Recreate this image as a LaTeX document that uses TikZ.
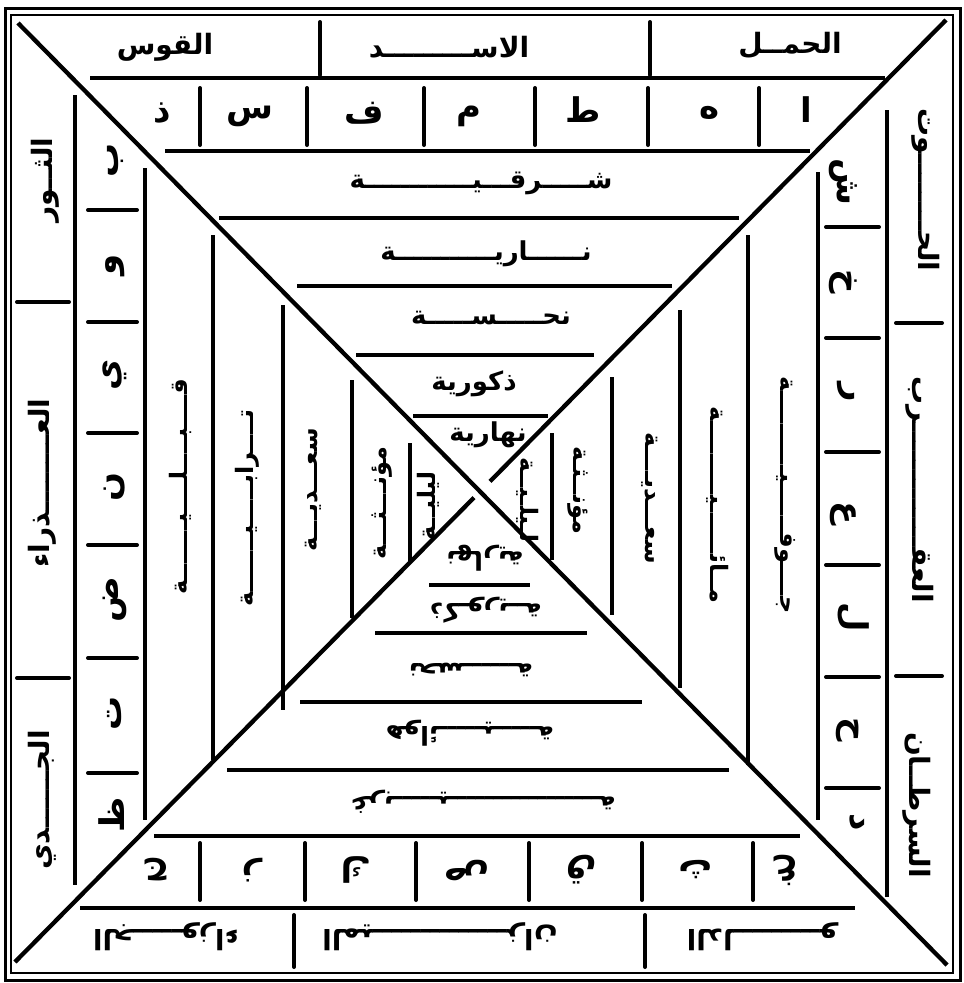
\documentclass[tikz,border=0pt]{standalone}
\usepackage{fontspec}
\newfontfamily\arabicfont[Script=Arabic]{DejaVu Sans}
\TeXXeTstate=1
\newcommand\ar[1]{\beginR#1\endR}
\tikzset{
  frameout/.style={line width=3pt},
  framein/.style={line width=1.6pt},
  diag/.style={line width=4.3pt},
  rul/.style={line width=4.3pt},
  sep/.style={line width=4pt, line cap=round},
  nm/.style={font=\arabicfont\bfseries\fontsize{28}{28}\selectfont, inner sep=0pt},
  lt/.style={font=\arabicfont\bfseries\fontsize{34}{34}\selectfont, inner sep=0pt},
  rw/.style={font=\arabicfont\bfseries\fontsize{26}{26}\selectfont, inner sep=0pt},
  sw/.style={font=\arabicfont\bfseries\fontsize{24}{24}\selectfont, inner sep=0pt},
}
\begin{document}
\begin{tikzpicture}[x=1pt,y=-1pt]
\useasboundingbox (0,0) rectangle (964,983);
% frame
\draw[frameout] (5,8) rectangle (960,980);
\draw[framein] (11,15) rectangle (953,973);
% diagonals
\draw[diag] (18,23) -- (947,965);
\draw[diag] (946,20) -- (490,481.4);
\draw[diag] (474,497.6) -- (15,962);
% top rules
\draw[rul] (90,78) -- (885,78);
\draw[rul] (165,151) -- (810,151);
\draw[rul] (219,218) -- (739,218);
\draw[rul] (297,286) -- (672,286);
\draw[rul] (356,355) -- (594,355);
\draw[rul] (413,416) -- (548,416);
\foreach \x in {320,650} \draw[sep] (\x,22) -- (\x,75);
\foreach \x in {200,307,424,535,648,759} \draw[sep] (\x,88) -- (\x,145);
% bottom rules
\draw[rul] (80,908) -- (855,908);
\draw[rul] (154,836) -- (800,836);
\draw[rul] (227,770) -- (729,770);
\draw[rul] (300,702) -- (642,702);
\draw[rul] (375,633) -- (587,633);
\draw[rul] (429,585) -- (530,585);
\foreach \x in {294,645} \draw[sep] (\x,915) -- (\x,967);
\foreach \x in {200,305,416,529,642,753} \draw[sep] (\x,843) -- (\x,900);
% left verticals
\draw[rul] (75,95) -- (75,885);
\draw[rul] (145,168) -- (145,820);
\draw[rul] (213,235) -- (213,760);
\draw[rul] (283,305) -- (283,710);
\draw[rul] (352,380) -- (352,618);
\draw[rul] (410,443) -- (410,563);
\foreach \y in {302,678} \draw[sep] (17,\y) -- (69,\y);
\foreach \y in {210,322,433,545,658,773} \draw[sep] (88,\y) -- (137,\y);
% right verticals
\draw[rul] (887,110) -- (887,897);
\draw[rul] (818,172) -- (818,820);
\draw[rul] (748,235) -- (748,765);
\draw[rul] (680,310) -- (680,688);
\draw[rul] (612,377) -- (612,615);
\draw[rul] (552,433) -- (552,560);
\foreach \y in {323,676} \draw[sep] (896,\y) -- (942,\y);
\foreach \y in {227,338,452,565,677,788} \draw[sep] (826,\y) -- (879,\y);
% ---------- top texts
\node[nm] (tn1) at (165,47) {\ar{القوس}};
\node[nm] (tn2) at (449,47) {\ar{الاســـــــــد}};
\node[nm] (tn3) at (790,45) {\ar{الحمــل}};
\node[lt] (tl1) at (162,113) {\ar{ذ}};
\node[lt] (tl2) at (250,116) {\ar{س}};
\node[lt] (tl3) at (364,113) {\ar{ف}};
\node[lt] (tl4) at (469,116) {\ar{م}};
\node[lt] (tl5) at (583,110) {\ar{ط}};
\node[lt] (tl6) at (710,113) {\ar{ه}};
\node[lt] (tl7) at (806,110) {\ar{ا}};
\node[rw] (tr1) at (481,183) {\ar{شـــــرقـــيــــــــــــة}};
\node[rw] (tr2) at (486,254) {\ar{نــــــاريـــــــــــة}};
\node[rw] (tr3) at (491,318) {\ar{نحـــــســـــة}};
\node[rw] (tr4) at (474,384) {\ar{ذكورية}};
\node[rw] (tr5) at (488,435) {\ar{نهارية}};
% ---------- left texts
\node[nm,rotate=90] (ln1) at (45,180) {\ar{الثــور}};
\node[nm,rotate=90] (ln2) at (42,483) {\ar{العــــــــذراء}};
\node[nm,rotate=90] (ln3) at (42,800) {\ar{الجــــــدي}};
\node[lt,rotate=90] (ll1) at (115,160) {\ar{ب}};
\node[lt,rotate=90] (ll2) at (115,265) {\ar{و}};
\node[lt,rotate=90] (ll3) at (115,375) {\ar{ي}};
\node[lt,rotate=90] (ll4) at (115,487) {\ar{ن}};
\node[lt,rotate=90] (ll5) at (115,600) {\ar{ض}};
\node[lt,rotate=90] (ll6) at (115,713) {\ar{ت}};
\node[lt,rotate=90] (ll7) at (112,815) {\ar{ظ}};
\node[sw,rotate=90] (lr1) at (180,487) {\ar{قــــبــــلــــيـــــــة}};
\node[sw,rotate=90] (lr2) at (247,508) {\ar{تــــرابـــــيـــــــة}};
\node[sw,rotate=90] (lr3) at (313,490) {\ar{سعـــديـــة}};
\node[sw,rotate=90] (lr4) at (382,503) {\ar{مؤنـــثـــة}};
\node[sw,rotate=90] (lr5) at (428,506) {\ar{ليليــة}};
% ---------- right texts
\node[nm,rotate=-90] (rn1) at (926,190) {\ar{الحــــــــوت}};
\node[nm,rotate=-90] (rn2) at (920,490) {\ar{العقـــــــــــــرب}};
\node[nm,rotate=-90] (rn3) at (917,805) {\ar{السرطــان}};
\node[lt,rotate=-90] (rl1) at (843,182) {\ar{ش}};
\node[lt,rotate=-90] (rl2) at (843,282) {\ar{خ}};
\node[lt,rotate=-90] (rl3) at (846,392) {\ar{ر}};
\node[lt,rotate=-90] (rl4) at (843,513) {\ar{ع}};
\node[lt,rotate=-90] (rl5) at (853,617) {\ar{ل}};
\node[lt,rotate=-90] (rl6) at (848,730) {\ar{ح}};
\node[lt,rotate=-90] (rl7) at (857,822) {\ar{د}};
\node[sw,rotate=-90] (rr1) at (785,495) {\ar{جــــوفــــــيــــــــــة}};
\node[sw,rotate=-90] (rr2) at (718,505) {\ar{مــائــــــيـــــــــة}};
\node[sw,rotate=-90] (rr3) at (650,498) {\ar{سعـــديــــة}};
\node[sw,rotate=-90] (rr4) at (578,490) {\ar{مؤنــثـة}};
\node[sw,rotate=-90] (rr5) at (528,500) {\ar{لـيلـيــة}};
% ---------- bottom texts
\node[nm,rotate=180] (bn1) at (166,937) {\ar{الجـــــوزاء}};
\node[nm,rotate=180] (bn2) at (440,937) {\ar{الميــــــــــــــزان}};
\node[nm,rotate=180] (bn3) at (762,937) {\ar{الدلـــــــــو}};
\node[lt,rotate=180] (bl1) at (157,870) {\ar{ج}};
\node[lt,rotate=180] (bl2) at (252,870) {\ar{ز}};
\node[lt,rotate=180] (bl3) at (356,870) {\ar{ك}};
\node[lt,rotate=180] (bl4) at (467,870) {\ar{ص}};
\node[lt,rotate=180] (bl5) at (581,870) {\ar{ق}};
\node[lt,rotate=180] (bl6) at (695,870) {\ar{ث}};
\node[lt,rotate=180] (bl7) at (787,870) {\ar{غ}};
\node[rw,rotate=180] (br1) at (485,558) {\ar{نهارية}};
\node[rw,rotate=180] (br2) at (486,610) {\ar{ذكـوريــة}};
\node[rw,rotate=180] (br3) at (471,670) {\ar{نحســــــة}};
\node[rw,rotate=180] (br4) at (470,733) {\ar{هوائـــــيـــــة}};
\node[rw,rotate=180] (br5) at (483,802) {\ar{غربـــــيـــــــــــــــــة}};
\end{tikzpicture}
\end{document}
